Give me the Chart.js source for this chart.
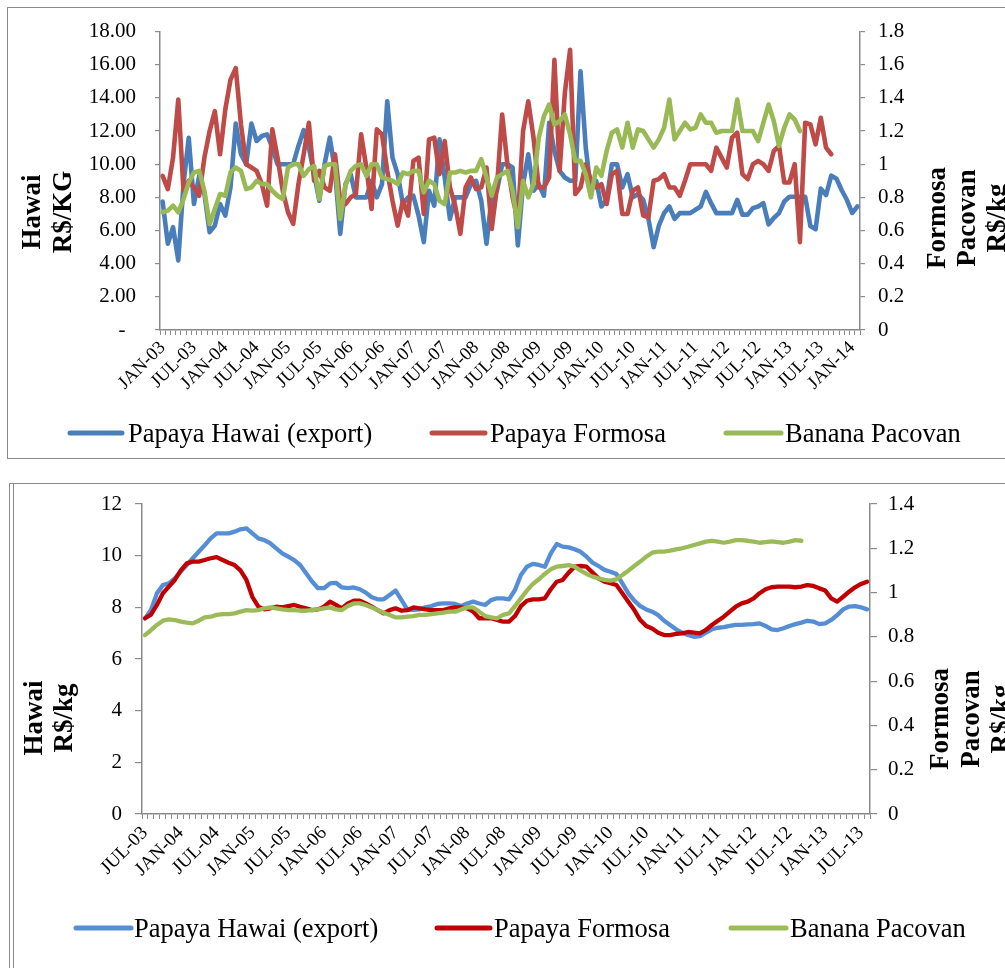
<!DOCTYPE html>
<html><head><meta charset="utf-8">
<script src="https://cdn.jsdelivr.net/npm/chart.js@4.4.1/dist/chart.umd.min.js"></script>
<style>
html,body{margin:0;padding:0;background:#fff;width:1005px;height:968px;overflow:hidden;}
.frame{position:absolute;border:1.5px solid #8a8a8a;box-sizing:border-box;}
canvas{position:absolute;left:0;}
</style></head><body>
<div class="frame" style="left:7px;top:7px;width:1010px;height:452px;"></div>
<div class="frame" style="left:9px;top:483px;width:1010px;height:500px;"></div>
<div style="position:absolute;left:12.5px;top:484px;width:1.5px;height:490px;background:#8a8a8a"></div>
<canvas id="c1" width="1005" height="470" style="top:0"></canvas>
<canvas id="c2" width="1005" height="498" style="top:470px"></canvas>
<script>
const MONTHS=['JAN','FEB','MAR','APR','MAY','JUN','JUL','AUG','SEP','OCT','NOV','DEC'];
function monthSeq(y,m,n){const out=[];for(let k=0;k<n;k++){const mm=(m+k)%12,yy=y+Math.floor((m+k)/12);out.push(MONTHS[mm]+'-'+String(yy%100).padStart(2,'0'));}return out;}

// ---- Top chart: monthly prices, Jan 2003 - Feb 2014
const topMonths = monthSeq(2003,0,134);
const hawaiTop = [7.75,5.2,6.2,4.2,8.8,11.6,7.6,9.3,8.2,5.9,6.3,7.6,6.9,8.6,12.45,10.6,10.0,12.45,11.4,11.7,11.8,11.0,10.0,10.0,10.0,10.0,11.1,12.05,11.0,9.4,7.8,10.0,11.6,9.6,5.8,8.8,9.4,8.0,8.0,8.0,9.0,8.0,8.8,13.8,10.4,9.4,7.6,8.0,8.1,6.9,5.3,8.4,7.5,11.5,9.2,6.7,8.0,8.0,8.0,8.8,9.0,7.8,5.2,8.0,8.4,10.0,10.0,
9.8,5.1,8.8,10.6,8.4,8.8,8.1,12.5,10.8,9.6,9.2,9.0,9.0,15.6,11.0,8.4,9.0,7.45,7.85,10.0,10.0,8.6,9.4,8.0,8.2,7.85,6.7,5.0,6.3,7.05,7.45,6.7,7.05,7.05,7.05,7.25,7.45,8.33,7.65,7.05,7.05,7.05,7.05,7.85,6.96,6.96,7.35,7.45,7.65,6.37,6.76,7.05,7.75,8.04,8.04,8.04,8.04,6.27,6.08,8.53,8.14,9.31,9.12,8.43,7.84,7.06,7.45];
const formosaTop = [0.93,0.85,1.04,1.39,0.84,0.90,0.86,0.81,1.04,1.2,1.32,1.06,1.33,1.51,1.58,1.24,1.0,0.98,0.96,0.88,0.75,1.21,1.04,0.84,0.71,0.64,0.88,1.06,1.25,0.90,0.96,0.86,0.84,1.06,0.78,0.76,0.80,0.82,1.18,0.98,0.73,1.21,1.18,0.96,0.78,0.63,0.78,0.69,1.02,1.04,0.70,1.15,1.16,0.94,1.14,0.86,0.75,0.58,0.86,0.92,0.85,0.86,0.98,0.61,0.86,1.30,1.0,
0.8,0.66,1.2,1.38,1.16,0.86,0.86,0.92,1.63,0.96,1.43,1.69,0.82,0.86,1.0,0.9,0.86,0.88,0.76,0.94,0.96,0.70,0.70,0.84,0.86,0.69,0.68,0.9,0.91,0.94,0.86,0.86,0.81,0.9,1.0,1.0,1.0,1.0,0.96,1.1,1.04,0.98,1.16,1.19,0.94,0.91,1.0,1.02,1.0,0.96,1.08,1.11,0.89,0.89,1.0,0.53,1.25,1.24,1.12,1.28,1.1,1.06];
const pacovanTop = [0.71,0.72,0.75,0.71,0.79,0.89,0.95,0.96,0.84,0.64,0.73,0.82,0.81,0.95,0.98,0.96,0.85,0.86,0.9,0.88,0.88,0.84,0.81,0.79,0.98,1.0,1.0,0.93,0.97,0.99,0.79,0.99,1.0,1.0,0.67,0.87,0.96,0.99,1.0,0.93,1.0,1.0,0.92,0.91,0.9,0.88,0.95,0.94,0.96,0.96,0.83,0.9,0.88,0.78,0.76,0.95,0.95,0.96,0.95,0.96,0.96,1.03,0.92,0.81,0.92,0.94,0.96,
0.84,0.62,0.9,0.8,0.88,1.16,1.29,1.36,1.24,1.26,1.30,1.18,1.02,1.02,0.94,0.8,0.98,0.93,1.08,1.19,1.21,1.1,1.25,1.1,1.21,1.2,1.15,1.1,1.15,1.22,1.39,1.15,1.2,1.25,1.21,1.22,1.3,1.25,1.25,1.19,1.2,1.2,1.2,1.39,1.2,1.2,1.2,1.14,1.25,1.36,1.26,1.11,1.22,1.3,1.27,1.2];

// ---- Bottom chart: moving averages, Jul 2003 - Aug 2013
const bottomMonths = monthSeq(2003,6,122);
const hawaiAvg = [7.57,7.9,8.54,8.86,8.93,9.12,9.38,9.64,9.9,10.15,10.4,10.67,10.86,10.86,10.86,10.93,11.02,11.06,10.86,10.67,10.6,10.48,10.28,10.09,9.96,9.83,9.64,9.32,9.0,8.74,8.74,8.93,8.95,8.77,8.74,8.77,8.7,8.57,8.39,8.31,8.31,8.48,8.65,8.28,7.9,7.9,7.92,8.0,8.05,8.13,8.15,8.15,8.13,8.05,8.15,8.22,8.15,8.09,8.28,8.35,8.35,
8.31,8.67,9.25,9.57,9.68,9.64,9.57,10.09,10.45,10.35,10.32,10.25,10.15,9.96,9.73,9.6,9.45,9.38,9.29,8.93,8.54,8.26,8.05,7.92,7.83,7.7,7.48,7.32,7.15,7.02,6.93,6.86,6.89,7.02,7.15,7.21,7.23,7.28,7.32,7.32,7.34,7.35,7.38,7.28,7.15,7.12,7.19,7.28,7.35,7.41,7.48,7.45,7.35,7.38,7.51,7.7,7.92,8.03,8.05,8.0,7.92];
const formosaAvg = [0.884,0.9,0.944,0.997,1.027,1.057,1.10,1.132,1.14,1.14,1.147,1.155,1.16,1.147,1.135,1.124,1.10,1.057,0.98,0.936,0.924,0.929,0.936,0.933,0.939,0.944,0.936,0.929,0.921,0.924,0.936,0.959,0.944,0.929,0.951,0.963,0.963,0.951,0.936,0.921,0.906,0.921,0.929,0.918,0.921,0.933,0.929,0.924,0.921,0.921,0.921,0.929,0.933,0.933,0.929,0.914,0.884,0.884,0.884,0.876,0.869,
0.869,0.894,0.939,0.963,0.969,0.969,0.974,1.015,1.049,1.057,1.09,1.117,1.12,1.117,1.09,1.064,1.049,1.042,1.034,0.997,0.959,0.921,0.876,0.849,0.838,0.819,0.808,0.808,0.813,0.816,0.822,0.819,0.816,0.831,0.854,0.873,0.891,0.914,0.936,0.951,0.959,0.974,0.997,1.015,1.024,1.027,1.027,1.027,1.024,1.027,1.034,1.03,1.019,1.009,0.974,0.959,0.981,1.004,1.024,1.039,1.049];
const pacovanAvg = [0.808,0.83,0.854,0.873,0.879,0.876,0.869,0.864,0.861,0.873,0.888,0.891,0.899,0.903,0.903,0.906,0.914,0.921,0.918,0.921,0.929,0.933,0.929,0.924,0.921,0.921,0.918,0.918,0.921,0.924,0.929,0.933,0.924,0.921,0.939,0.951,0.951,0.944,0.933,0.921,0.909,0.899,0.888,0.888,0.891,0.894,0.899,0.899,0.903,0.906,0.909,0.914,0.914,0.924,0.933,0.933,0.914,0.894,0.888,0.884,0.899,
0.906,0.939,0.974,1.009,1.039,1.06,1.084,1.105,1.117,1.12,1.124,1.117,1.099,1.084,1.072,1.064,1.057,1.054,1.06,1.079,1.099,1.12,1.14,1.162,1.18,1.185,1.185,1.189,1.195,1.2,1.207,1.215,1.222,1.23,1.234,1.23,1.225,1.23,1.237,1.237,1.234,1.23,1.225,1.228,1.231,1.228,1.225,1.23,1.237,1.234];

const seriesNames = ['Papaya Hawai (export)','Papaya Formosa','Banana Pacovan'];

const FONT = "'Liberation Serif','Times New Roman',serif";
Chart.defaults.font.family = FONT;
Chart.defaults.color = '#000';
const AX = '#8a8a8a';

function decor(id, o){
  return {id:id, afterDraw(chart){
    const ctx = chart.ctx; ctx.save();
    ctx.fillStyle = '#000';
    ctx.font = 'bold 27px ' + FONT;
    ctx.textAlign = 'center'; ctx.textBaseline = 'alphabetic';
    o.titles.forEach(t=>{ ctx.save(); ctx.translate(t.x,t.y); ctx.rotate(-Math.PI/2); ctx.fillText(t.text,0,0); ctx.restore(); });
    ctx.font = '26.5px ' + FONT; ctx.textAlign = 'left';
    o.legend.forEach((l,i)=>{
      const ds = chart.data.datasets[i];
      ctx.strokeStyle = ds.borderColor; ctx.lineWidth = 5; ctx.lineCap = 'round';
      ctx.beginPath(); ctx.moveTo(l.x1,o.ly); ctx.lineTo(l.x2,o.ly); ctx.stroke();
      ctx.fillText(ds.label, l.tx, o.ty);
    });
    ctx.restore();
  }};
}

function xScale(labels, h, fs, pad){
  return {type:'category', offset:true,
    grid:{display:true, drawOnChartArea:false, drawTicks:true, tickLength:5, color:AX, lineWidth:1, offset:true},
    border:{display:true, color:AX, width:1.5},
    ticks:{autoSkip:false, maxRotation:45, minRotation:45, padding:pad, color:'#000', font:{size:fs},
      callback:(v,i)=> i%6===0 ? labels[i] : ''},
    afterFit:(s)=>{ s.height = h; }};
}
function yScale(pos, min, max, step, w, tl, pad, cb){
  return {position:pos, min:min, max:max,
    grid:{drawOnChartArea:false, drawTicks:true, tickLength:tl, color:AX, lineWidth:1.2},
    border:{display:true, color:AX, width:1.5},
    ticks:{stepSize:step, padding:pad, color:'#000', font:{size:21}, callback:cb},
    afterFit:(s)=>{ s.width = w; }};
}
function ds(label, data, color, axis, bw, order){
  return {label:label, data:data, borderColor:color, backgroundColor:color, yAxisID:axis, borderWidth:bw,
    pointRadius:0, pointHoverRadius:0, tension:0, fill:false, borderJoinStyle:'round', borderCapStyle:'round', order:order};
}

new Chart(document.getElementById('c1'), {
  type:'line',
  data:{labels:topMonths, datasets:[
    ds(seriesNames[0], hawaiTop, '#4A7EBB', 'y', 4.6, 3),
    ds(seriesNames[1], formosaTop, '#BE4B48', 'y2', 4.6, 2),
    ds(seriesNames[2], pacovanTop, '#98B954', 'y2', 4.6, 1)
  ]},
  options:{responsive:false, animation:false, events:[],
    layout:{padding:{top:24,left:0,right:0,bottom:0}},
    plugins:{legend:{display:false}, tooltip:{enabled:false}},
    scales:{
      x: xScale(topMonths, 140, 18.5, 2),
      y: yScale('left',0,18,2,160,5,19, v=> v===0 ? '-  ' : Number(v).toFixed(2)),
      y2: yScale('right',0,1.8,0.2,145,5,13, v=> String(Math.round(v*10)/10))
    }},
  plugins:[decor('d1',{
    titles:[{text:'Hawai',x:40,y:212},{text:'R$/KG',x:71,y:212},
            {text:'Formosa',x:945,y:218},{text:'Pacovan',x:975,y:218},{text:'R$/kg',x:1005,y:218}],
    ly:433, ty:442,
    legend:[{x1:70,x2:122,tx:128},{x1:432,x2:485,tx:490},{x1:726,x2:781,tx:785}]
  })]
});

new Chart(document.getElementById('c2'), {
  type:'line',
  data:{labels:bottomMonths, datasets:[
    ds(seriesNames[0], hawaiAvg, '#558ED5', 'y', 4.3, 3),
    ds(seriesNames[1], formosaAvg, '#C00000', 'y2', 4.3, 2),
    ds(seriesNames[2], pacovanAvg, '#9BBB59', 'y2', 4.3, 1)
  ]},
  options:{responsive:false, animation:false, events:[],
    layout:{padding:{top:34,left:0,right:0,bottom:0}},
    plugins:{legend:{display:false}, tooltip:{enabled:false}},
    scales:{
      x: xScale(bottomMonths, 154, 19, 3),
      y: yScale('left',0,12,2,142,7,13, v=> String(v)),
      y2: yScale('right',0,1.4,0.2,135,7,11, v=> String(Math.round(v*10)/10))
    }},
  plugins:[decor('d2',{
    titles:[{text:'Hawai',x:42,y:248},{text:'R$/kg',x:72,y:248},
            {text:'Formosa',x:948,y:249},{text:'Pacovan',x:979,y:249},{text:'R$/kg',x:1009,y:249}],
    ly:458, ty:467,
    legend:[{x1:76,x2:131,tx:134},{x1:437,x2:490,tx:494},{x1:731,x2:786,tx:790}]
  })]
});
</script>
</body></html>
